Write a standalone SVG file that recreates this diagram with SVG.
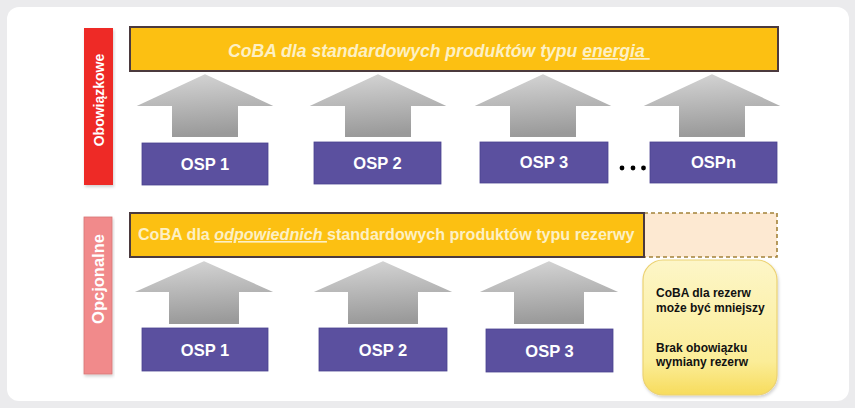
<svg xmlns="http://www.w3.org/2000/svg" width="855" height="408" viewBox="0 0 855 408">
  <defs>
    <linearGradient id="arrowFill" x1="0" y1="0" x2="0.15" y2="1">
      <stop offset="0" stop-color="#d8d8d8"/>
      <stop offset="1" stop-color="#9a9a9a"/>
    </linearGradient>
    <linearGradient id="noteFill" x1="0" y1="0" x2="0" y2="1">
      <stop offset="0" stop-color="#fdf6c8"/>
      <stop offset="0.75" stop-color="#fbed98"/>
      <stop offset="1" stop-color="#f7dc5c"/>
    </linearGradient>
    <filter id="soft" x="-10%" y="-10%" width="120%" height="125%">
      <feDropShadow dx="1" dy="2" stdDeviation="1.5" flood-color="#000" flood-opacity="0.18"/>
    </filter>
  </defs>
  <style>
    .t { font-family: "Liberation Sans", Arial, sans-serif; font-weight: bold; }
    .osp rect { fill: #5b509f; stroke: #4a4290; stroke-width: 0.8; }
    .osp text { fill: #ffffff; font-size: 16.5px; text-anchor: middle; }
    .bar { fill: #fcc012; stroke: #4b3a3e; stroke-width: 2; }
    .arrow { fill: url(#arrowFill); stroke: #ffffff; stroke-width: 2; stroke-linejoin: miter; }
    .side { fill: #ffffff; font-size: 14px; text-anchor: middle; }
    .note { fill: #111111; font-size: 12px; }
  </style>

  <!-- page background and panel -->
  <rect x="0" y="0" width="855" height="408" fill="#ebebed"/>
  <rect x="7" y="7" width="842" height="394" rx="12" fill="#ffffff"/>

  <!-- row labels -->
  <g id="label-obowiazkowe">
    <rect x="84" y="28" width="29" height="157" fill="#ee2b25" filter="url(#soft)"/>
    <text class="t side" transform="translate(103.5 100) rotate(-90)">Obowiązkowe</text>
  </g>
  <g id="label-opcjonalne">
    <rect x="84" y="217" width="28" height="157" fill="#f18a8b" stroke="#d87576" stroke-width="0.8" filter="url(#soft)"/>
    <text class="t side" transform="translate(104 279) rotate(-90)" style="font-size:16.5px">Opcjonalne</text>
  </g>

  <!-- CoBA bars -->
  <g id="coba-energia">
    <rect class="bar" x="130" y="27" width="648" height="44"/>
    <text class="t" x="228" y="57" font-size="17.6" font-style="italic" fill="#fdf0c4">CoBA dla standardowych produktów typu <tspan text-decoration="underline">energia&#160;</tspan></text>
  </g>
  <g id="coba-rezerwy">
    <rect x="644" y="213" width="133" height="44" fill="#fde9d2" stroke="#a3823a" stroke-width="1.6" stroke-dasharray="4 3"/>
    <rect class="bar" x="130" y="213" width="514" height="44"/>
    <text class="t" x="138" y="240" font-size="16.1" fill="#fdf0c4">CoBA dla <tspan font-style="italic" text-decoration="underline">odpowiednich&#160;</tspan>standardowych produktów typu rezerwy</text>
  </g>

  <!-- upward arrows from each OSP to the CoBA bar -->
  <g id="connectors">
    <path class="arrow" d="M205 73 L278 107 L239 107 L239 138 L171 138 L171 107 L132 107 Z"/>
    <path class="arrow" d="M378 73 L451 107 L412 107 L412 138 L344 138 L344 107 L305 107 Z"/>
    <path class="arrow" d="M543 73 L616 107 L577 107 L577 138 L509 138 L509 107 L470 107 Z"/>
    <path class="arrow" d="M712 73 L785 107 L746 107 L746 138 L678 138 L678 107 L639 107 Z"/>
    <path class="arrow" d="M204 260 L278 293 L240 293 L240 325 L168 325 L168 293 L130 293 Z"/>
    <path class="arrow" d="M383 260 L457 293 L419 293 L419 325 L347 325 L347 293 L309 293 Z"/>
    <path class="arrow" d="M549 260 L623 293 L585 293 L585 325 L513 325 L513 293 L475 293 Z"/>
  </g>

  <!-- operators, obligatory row -->
  <g id="osp1-top" class="osp"><rect x="142" y="143" width="126" height="42"/><text class="t" x="205" y="170">OSP 1</text></g>
  <g id="osp2-top" class="osp"><rect x="314" y="142" width="127" height="42"/><text class="t" x="377.5" y="169">OSP 2</text></g>
  <g id="osp3-top" class="osp"><rect x="480" y="142" width="128" height="41"/><text class="t" x="544" y="168">OSP 3</text></g>
  <g id="ellipsis">
    <circle cx="622" cy="168" r="2.4" fill="#000"/>
    <circle cx="633" cy="168" r="2.4" fill="#000"/>
    <circle cx="643.5" cy="168" r="2.4" fill="#000"/>
  </g>
  <g id="ospn-top" class="osp"><rect x="650" y="142" width="127" height="41"/><text class="t" x="713.5" y="168">OSPn</text></g>

  <!-- operators, optional row -->
  <g id="osp1-bottom" class="osp"><rect x="142" y="328" width="126" height="43"/><text class="t" x="205" y="356">OSP 1</text></g>
  <g id="osp2-bottom" class="osp"><rect x="319" y="328" width="128" height="43"/><text class="t" x="383" y="356">OSP 2</text></g>
  <g id="osp3-bottom" class="osp"><rect x="486" y="329" width="127" height="43"/><text class="t" x="549.5" y="357">OSP 3</text></g>

  <!-- note on reserves -->
  <g id="note-rezerwy">
    <rect x="643" y="260" width="134" height="135" rx="20" fill="url(#noteFill)" stroke="#ecd273" stroke-width="1.2" filter="url(#soft)"/>
    <text class="t note" x="656" y="297">CoBA dla rezerw</text>
    <text class="t note" x="656" y="312">może być mniejszy</text>
    <text class="t note" x="656" y="352">Brak obowiązku</text>
    <text class="t note" x="656" y="366">wymiany rezerw</text>
  </g>
</svg>
